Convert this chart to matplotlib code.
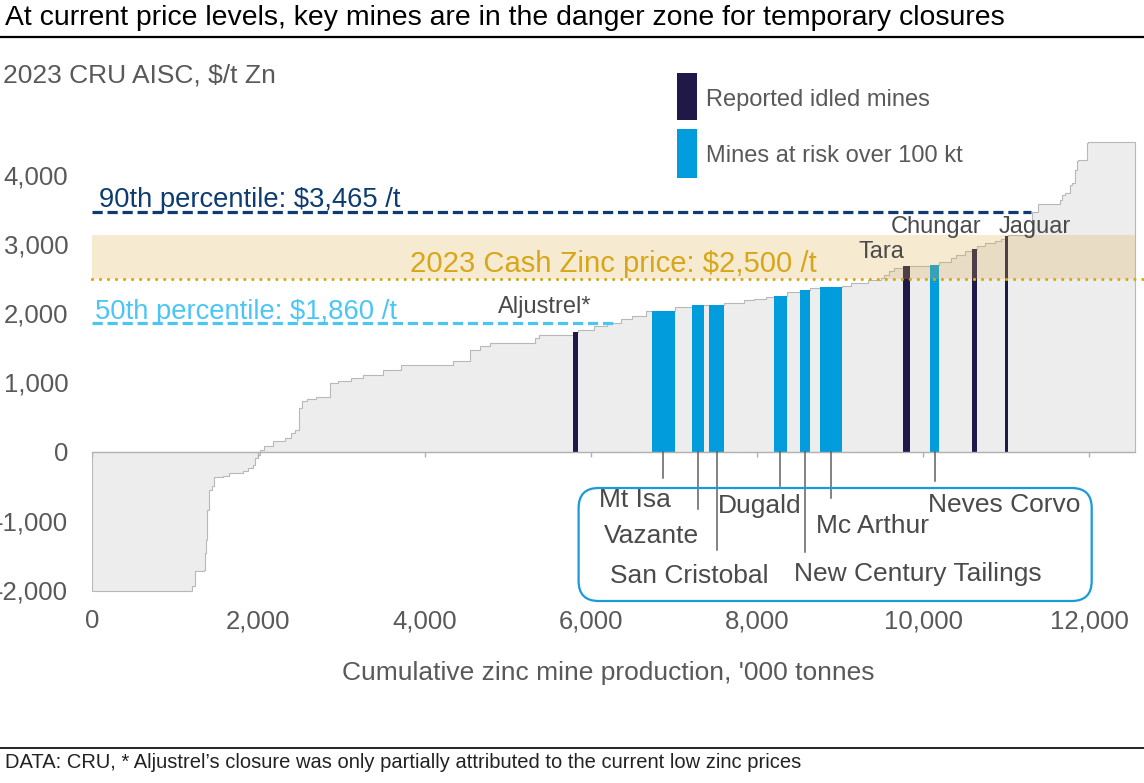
import numpy as np
import matplotlib
matplotlib.use("Agg")
import matplotlib.pyplot as plt
from matplotlib.patches import FancyBboxPatch, Rectangle
from matplotlib.lines import Line2D

plt.rcParams['font.family'] = ['Liberation Sans', 'DejaVu Sans']
plt.rcParams['axes.unicode_minus'] = False

# ---------------- data ----------------
# Cost-curve steps, left to right: production of each step ('000 t Zn) and its 2023 AISC ($/t)
seg_output = [1200, 30, 110, 15, 17, 13, 15, 10, 35, 20,
              107, 72, 169, 60, 61, 20, 40, 20, 53, 108,
              141, 81, 40, 52, 29, 60, 112, 169, 100, 150,
              152, 241, 210, 627, 209, 120, 112, 552, 40, 408,
              70, 185, 162, 160, 141, 161, 72, 277, 214, 140,
              60, 181, 241, 121, 141, 100, 149, 161, 121, 121,
              261, 112, 199, 163, 37, 60, 60, 105, 88, 241,
              105, 149, 60, 100, 93, 61, 88, 120, 73, 56,
              32, 129, 153, 80, 261, 21, 40, 60, 20, 41,
              20, 20, 100, 21, 562]
seg_aisc = [-2020, -1943, -1726, -1706, -1460, -1272, -838, -789, -549, -501,
            -371, -357, -308, -285, -236, -187, -91, -43, 20, 77,
            149, 197, 270, 318, 631, 727, 761, 785, 992, 1016,
            1065, 1113, 1185, 1253, 1305, 1464, 1522, 1570, 1643, 1681,
            1726, 1753, 1811, 1859, 1917, 1966, 2028, 2038, 2096, 2115,
            2119, 2121, 2145, 2187, 2206, 2235, 2245, 2305, 2343, 2360,
            2373, 2392, 2436, 2476, 2510, 2557, 2606, 2654, 2678, 2688,
            2693, 2736, 2798, 2846, 2895, 2933, 2967, 3015, 3049, 3073,
            3120, 3125, 3130, 3470, 3584, 3641, 3714, 3738, 3858, 3883,
            4075, 4196, 4219, 4461, 4473]

# Highlighted mines: name, step index in the curve, status
mine_names = ["Aljustrel*", "Mt Isa", "Vazante", "San Cristobal", "Dugald",
              "New Century Tailings", "Mc Arthur", "Tara", "Neves Corvo",
              "Chungar", "Jaguar"]
mine_segment = [40, 47, 49, 51, 56, 58, 60, 68, 70, 75, 80]
mine_status = ["idled", "risk", "risk", "risk", "risk", "risk", "risk",
               "idled", "risk", "idled", "idled"]

p50_cost = 1860
p90_cost = 3465
zinc_price = 2500
zinc_band_top = 3135

x_ticks = [0, 2000, 4000, 6000, 8000, 10000, 12000]
y_ticks = [-2000, -1000, 0, 1000, 2000, 3000, 4000]

# ---------------- styles ----------------
C_GREY_FILL = '#ededed'
C_GREY_EDGE = '#b8b8b8'
C_NAVY = '#201848'
C_BLUE = '#009cdc'
C_P90 = '#0c3c72'
C_P50 = '#4ac6f6'
C_GOLD = '#d8a619'
C_TEXT = '#595959'
C_LABEL = '#4a4a4a'

W, H = 1144, 783
fig = plt.figure(figsize=(W / 100, H / 100), dpi=100)

ax_left_px, ax_right_px = 92.3, 1143.5
ax_top_px, ax_bot_px = 136.8, 597.0
ax = fig.add_axes([ax_left_px / W, 1 - ax_bot_px / H,
                   (ax_right_px - ax_left_px) / W, (ax_bot_px - ax_top_px) / H])
ax.set_xlim(0, 12650)
ax.set_ylim(-2100, 4550)
for s in ax.spines.values():
    s.set_visible(False)

edges = np.concatenate([[0], np.cumsum(seg_output)])
total = edges[-1]
aisc = np.array(seg_aisc, dtype=float)

# cost curve
ax.stairs(aisc, edges, baseline=0, fill=True, facecolor=C_GREY_FILL,
          edgecolor=C_GREY_EDGE, linewidth=0.8, zorder=1)

# highlighted mines
for name, idx, status in zip(mine_names, mine_segment, mine_status):
    ax.bar(edges[idx], aisc[idx], width=seg_output[idx], align='edge',
           color=C_NAVY if status == 'idled' else C_BLUE, linewidth=0, zorder=2)

# zero axis line and ticks
ax.plot([0, total], [0, 0], color='#b0b0b0', lw=1.0, zorder=2.5)
ax.vlines(x_ticks, -75, 0, color='#b0b0b0', lw=1.0, zorder=2.5)

# zinc price band
ax.fill_between([0, total], zinc_price, zinc_band_top, facecolor='#dcb04a',
                alpha=0.25, linewidth=0, zorder=3)
ax.plot([0, 12650], [zinc_price, zinc_price], color=C_GOLD, lw=2.3,
        linestyle=(0, (0.01, 2.5)), dash_capstyle='round', zorder=4, clip_on=False)
ax.plot([0, 0.9 * total], [p90_cost, p90_cost], color=C_P90, lw=2.3,
        linestyle=(0, (3.2, 1.5)), zorder=4)
ax.plot([0, 0.5 * total], [p50_cost, p50_cost], color=C_P50, lw=2.3,
        linestyle=(0, (3.2, 1.5)), zorder=4)

ax.text(81, 3540, f"90th percentile: ${p90_cost:,} /t", color=C_P90,
        fontsize=19.7, va='baseline', ha='left', zorder=5)
ax.text(32, 1918, f"50th percentile: ${p50_cost:,} /t", color=C_P50,
        fontsize=19.7, va='baseline', ha='left', zorder=5)
ax.text(3823, 2601, f"2023 Cash Zinc price: ${zinc_price:,} /t", color=C_GOLD,
        fontsize=21.1, va='baseline', ha='left', zorder=5)

# labels above bars
top_labels = {"Aljustrel*": (4886, 2000), "Tara": (9218, 2795),
              "Chungar": (9604, 3156), "Jaguar": (10903, 3165)}
for name, (tx, ty) in top_labels.items():
    ax.text(tx, ty, name, color=C_LABEL, fontsize=17, va='baseline',
            ha='left', zorder=5)

# labels below axis with leader lines
bottom_labels = {
    "Mt Isa": (6097, -800, -382),
    "Vazante": (6157, -1319, -828),
    "San Cristobal": (6230, -1898, -1420),
    "Dugald": (7529, -886, -503),
    "New Century Tailings": (8444, -1869, -1449),
    "Mc Arthur": (8709, -1175, -676),
    "Neves Corvo": (10056, -866, -428),
}
for name, idx in zip(mine_names, mine_segment):
    if name not in bottom_labels:
        continue
    tx, ty, ly = bottom_labels[name]
    cx = edges[idx] + seg_output[idx] / 2
    ax.plot([cx, cx], [0, ly], color='#606060', lw=1.1, zorder=4, clip_on=False)
    ax.text(tx, ty, name, color=C_LABEL, fontsize=19, va='baseline',
            ha='left', zorder=5, clip_on=False)

box = FancyBboxPatch((578.6 / 100, (H - 601) / 100), (1091.7 - 578.6) / 100,
                     (601 - 488) / 100, boxstyle="round,pad=0,rounding_size=0.2",
                     transform=fig.dpi_scale_trans, facecolor='none',
                     edgecolor='#1a9ad6', linewidth=1.6, zorder=6)
fig.patches.append(box)

# ticks
ax.set_xticks(x_ticks)
ax.set_xticklabels([f"{v:,}" for v in x_ticks])
ax.set_yticks(y_ticks)
ax.set_yticklabels([f"{v:,}" for v in y_ticks])
ax.tick_params(axis='x', length=0, pad=8.8, labelsize=18.5, labelcolor=C_TEXT)
ax.tick_params(axis='y', length=0, pad=17.3, labelsize=18.5, labelcolor=C_TEXT)

# titles and annotations in figure space
fig.text(5 / W, 1 - 18 / H, "At current price levels, key mines are in the danger zone for temporary closures",
         fontsize=20.4, color='black', va='center', ha='left')
fig.lines.append(Line2D([0, 1], [1 - 37 / H] * 2, transform=fig.transFigure,
                        color='black', lw=1.6))
fig.text(3 / W, 1 - 75 / H, "2023 CRU AISC, $/t Zn", fontsize=19, color=C_TEXT,
         va='center', ha='left')
fig.text(608 / W, 1 - 673 / H, "Cumulative zinc mine production, '000 tonnes",
         fontsize=19, color=C_TEXT, va='center', ha='center')
fig.lines.append(Line2D([0, 1], [1 - 748 / H] * 2, transform=fig.transFigure,
                        color='black', lw=1.2))
fig.text(5 / W, 1 - 762 / H,
         "DATA: CRU, * Aljustrel\u2019s closure was only partially attributed to the current low zinc prices",
         fontsize=14.5, color='#222222', va='center', ha='left')

# legend
fig.patches.append(Rectangle((677 / W, 1 - 120 / H), 20 / W, 47 / H,
                             transform=fig.transFigure, facecolor=C_NAVY, lw=0))
fig.patches.append(Rectangle((677 / W, 1 - 178 / H), 20 / W, 49 / H,
                             transform=fig.transFigure, facecolor=C_BLUE, lw=0))
fig.text(706 / W, 1 - 100 / H, "Reported idled mines", fontsize=17, color=C_TEXT,
         va='center', ha='left')
fig.text(706 / W, 1 - 156 / H, "Mines at risk over 100 kt", fontsize=17, color=C_TEXT,
         va='center', ha='left')

fig.savefig("out.png", dpi=100)
